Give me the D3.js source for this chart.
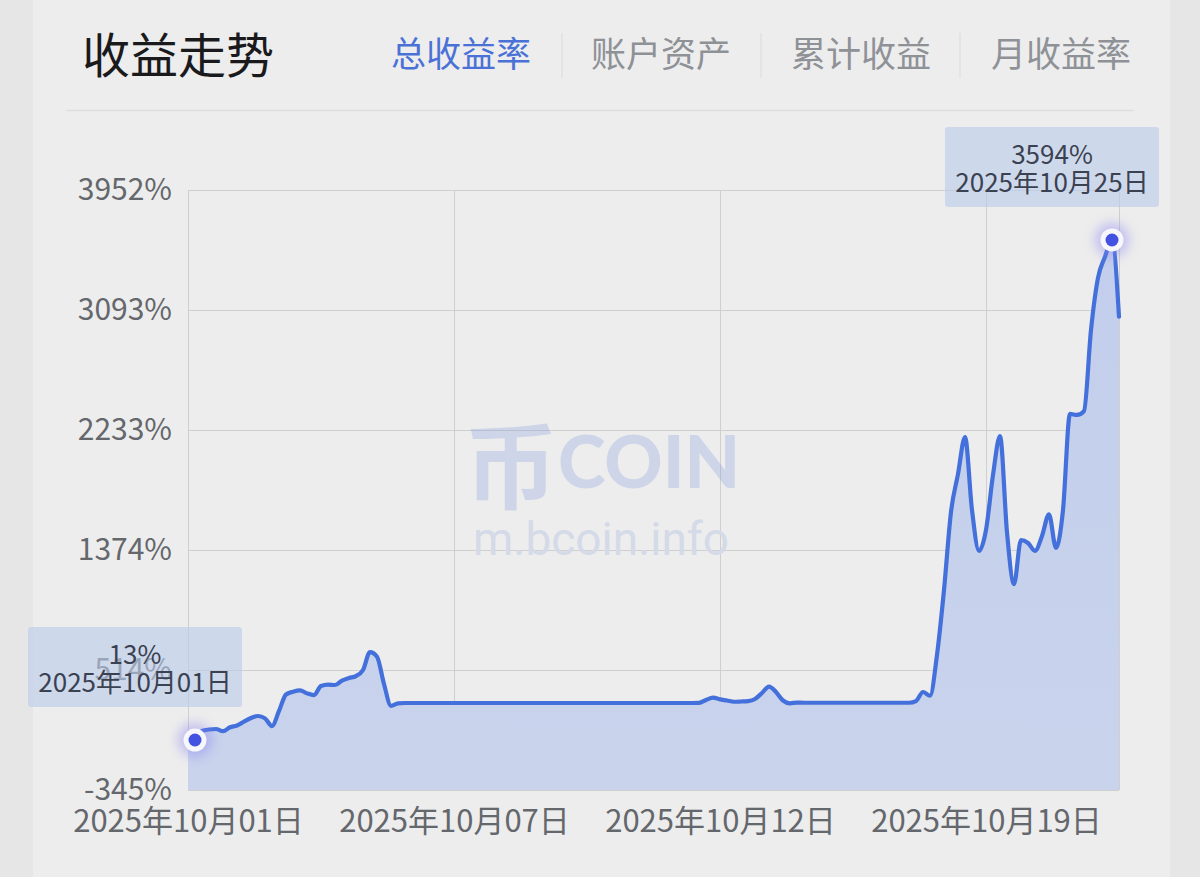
<!DOCTYPE html>
<html><head><meta charset="utf-8">
<script src="https://cdn.jsdelivr.net/npm/d3@7"></script>
<style>
html,body{margin:0;padding:0;background:#e5e5e5;}
svg{display:block;}
text{font-family:"Noto Sans CJK SC","Noto Sans",sans-serif;}
</style></head>
<body>
<svg id="c" width="1200" height="877"></svg>
<script>
// ---------- data ----------
const title = "收益走势";
const tabs = ["总收益率", "账户资产", "累计收益", "月收益率"];
const activeTab = 0;
const yDomain = [-345, 3952];
const yTickLabels = ["-345%", "514%", "1374%", "2233%", "3093%", "3952%"];
const xTickIndex = [0, 38, 76, 114];
const xTickLabels = ["2025年10月01日", "2025年10月07日", "2025年10月12日", "2025年10月19日"];
const values = [
  25, 13, 78, 88, 92, 76, 104, 117, 145, 171,
  185, 168, 113, 221, 339, 359, 369, 347, 335, 400,
  410, 407, 439, 457, 471, 514, 643, 610, 414, 258,
  276,
  278, 278, 278, 278, 278, 278, 278, 278, 278, 278,
  278, 278, 278, 278, 278, 278, 278, 278, 278, 278,
  278, 278, 278, 278, 278, 278, 278, 278, 278, 278,
  278, 278, 278, 278, 278, 278, 278, 278, 278, 278,
  278, 278,
  279, 300, 317, 304, 296, 287, 289, 292, 307, 350,
  396, 357, 296, 276, 281,
  280, 280, 280, 280, 280, 280, 280, 280, 280, 280,
  280, 280, 280, 280, 280, 280,
  292, 357, 330, 622, 1087, 1646, 1918, 2183, 1660, 1367,
  1517, 1911, 2190, 1500, 1130, 1445, 1424, 1367, 1474, 1630,
  1388, 1660, 2348, 2341, 2369, 2949, 3322, 3474, 3594, 3045
];
const markerIndex = [1, 132];
const markerValueLabels = ["13%", "3594%"];
const markerDateLabels = ["2025年10月01日", "2025年10月25日"];
const watermarkLogo = ["币", "COIN"];
const watermarkUrl = "m.bcoin.info";

// ---------- layout ----------
const W = 1200, H = 877;
const L = 188, R = 1119, T = 190, B = 790;
const svg = d3.select("#c");
const defs = svg.append("defs");

const x = d3.scaleLinear().domain([0, values.length - 1]).range([L, R]);
const y = d3.scaleLinear().domain(yDomain).range([B, T]);
const yTicks = d3.range(yTickLabels.length).map(i => yDomain[0] + i * (yDomain[1] - yDomain[0]) / (yTickLabels.length - 1));

// background card
svg.append("rect").attr("x", 0).attr("y", 0).attr("width", W).attr("height", H).attr("fill", "#e6e6e6");
svg.append("rect").attr("x", 33).attr("y", 0).attr("width", 1137).attr("height", H).attr("fill", "#ededed");

// header
svg.append("text").attr("x", 82).attr("y", 73).attr("font-size", 48).attr("font-weight", 400)
  .attr("fill", "#1a1a1c").text(title);
const tabX = [461, 661, 861, 1061];
tabs.forEach((t, i) => {
  svg.append("text").attr("x", tabX[i]).attr("y", 67).attr("text-anchor", "middle")
    .attr("font-size", 35).attr("fill", i === activeTab ? "#4a72d6" : "#8e9196").text(t);
});
[562, 761, 960].forEach(sx => {
  svg.append("line").attr("x1", sx).attr("x2", sx).attr("y1", 33).attr("y2", 78)
    .attr("stroke", "#e0e0e0").attr("stroke-width", 1.5);
});
svg.append("line").attr("x1", 66).attr("x2", 1134).attr("y1", 110.5).attr("y2", 110.5)
  .attr("stroke", "#dedede").attr("stroke-width", 1.5);

// grid
const grid = svg.append("g");
yTicks.forEach(v => {
  grid.append("line").attr("x1", L).attr("x2", R).attr("y1", Math.round(y(v)) + 0.5).attr("y2", Math.round(y(v)) + 0.5)
    .attr("stroke", "#cfcfcf").attr("stroke-width", 1);
});
xTickIndex.concat([values.length - 1]).forEach(i => {
  grid.append("line").attr("x1", Math.round(x(i)) + 0.5).attr("x2", Math.round(x(i)) + 0.5).attr("y1", T).attr("y2", B)
    .attr("stroke", "#cfcfcf").attr("stroke-width", 1);
});

// watermark
const wm = svg.append("g").attr("opacity", 0.27);
wm.append("text").attr("x", 464).attr("y", 502).attr("font-size", 94).attr("font-weight", 700)
  .attr("fill", "#7f97dc").text(watermarkLogo[0]);
wm.append("text").attr("x", 558).attr("y", 488).attr("font-size", 72).attr("font-weight", 900)
  .style("font-family", "Lato, 'Open Sans', sans-serif").attr("fill", "#7f97dc").text(watermarkLogo[1]);
svg.append("text").attr("x", 601).attr("y", 555).attr("text-anchor", "middle").attr("font-size", 46)
  .style("font-family", "Roboto, 'Noto Sans', sans-serif").attr("fill", "#d4dae7").text(watermarkUrl);

// area + line
const grad = defs.append("linearGradient").attr("id", "ag").attr("x1", 0).attr("x2", 0).attr("y1", 0).attr("y2", 1);
grad.append("stop").attr("offset", "0%").attr("stop-color", "#c2ceec");
grad.append("stop").attr("offset", "100%").attr("stop-color", "#c9d3ec");

const area = d3.area().x((d, i) => x(i)).y0(B).y1(d => y(d)).curve(d3.curveMonotoneX);
const line = d3.line().x((d, i) => x(i)).y(d => y(d)).curve(d3.curveMonotoneX);
svg.append("path").datum(values).attr("d", area).attr("fill", "url(#ag)");
svg.append("path").datum(values).attr("d", line).attr("fill", "none")
  .attr("stroke", "#4470dc").attr("stroke-width", 4.2).attr("stroke-linejoin", "round").attr("stroke-linecap", "round");

// axes
const yAxis = d3.axisLeft(y).tickValues(yTicks).tickSize(0).tickPadding(16)
  .tickFormat((d, i) => yTickLabels[i]);
const ya = svg.append("g").attr("transform", `translate(${L},0)`).call(yAxis);
ya.select(".domain").remove();
ya.selectAll("text").attr("font-size", 30).attr("fill", "#64676c")
  .style("font-family", "'Noto Sans CJK SC', sans-serif").attr("dy", "0.33em").attr("x", -16);

const xAxis = d3.axisBottom(x).tickValues(xTickIndex).tickSize(0).tickPadding(0)
  .tickFormat((d, i) => xTickLabels[i]);
const xa = svg.append("g").attr("transform", `translate(0,${B})`).call(xAxis);
xa.select(".domain").remove();
xa.selectAll("text").attr("font-size", 31).attr("fill", "#64676c")
  .style("font-family", "'Noto Sans CJK SC', sans-serif").attr("dy", 0).attr("y", 42);

// markers
const glow = defs.append("filter").attr("id", "glow").attr("x", "-100%").attr("y", "-100%").attr("width", "300%").attr("height", "300%");
glow.append("feGaussianBlur").attr("stdDeviation", 6);

markerIndex.forEach((mi, k) => {
  const cx = x(mi), cy = y(values[mi]);
  const bw = 214, bh = 80;
  const bx = cx - 60 - bw / 2, by = cy - 33 - bh;
  const g = svg.append("g");
  g.append("rect").attr("x", bx).attr("y", by).attr("width", bw).attr("height", bh).attr("rx", 3)
    .attr("fill", "rgba(188,203,234,0.62)");
  g.append("text").attr("x", bx + bw / 2).attr("y", by + 28).attr("dy", "0.36em").attr("text-anchor", "middle")
    .attr("font-size", 26).attr("fill", "#3a4150").text(markerValueLabels[k]);
  g.append("text").attr("x", bx + bw / 2).attr("y", by + 56).attr("dy", "0.36em").attr("text-anchor", "middle")
    .attr("font-size", 26).attr("fill", "#3a4150").text(markerDateLabels[k]);
  g.append("circle").attr("cx", cx).attr("cy", cy).attr("r", 17).attr("fill", "#8c84f0").attr("opacity", 0.45)
    .attr("filter", "url(#glow)");
  g.append("circle").attr("cx", cx).attr("cy", cy).attr("r", 11.5).attr("fill", "#f7f7fb");
  g.append("circle").attr("cx", cx).attr("cy", cy).attr("r", 6.5).attr("fill", "#4352e0");
});
</script>
</body></html>
